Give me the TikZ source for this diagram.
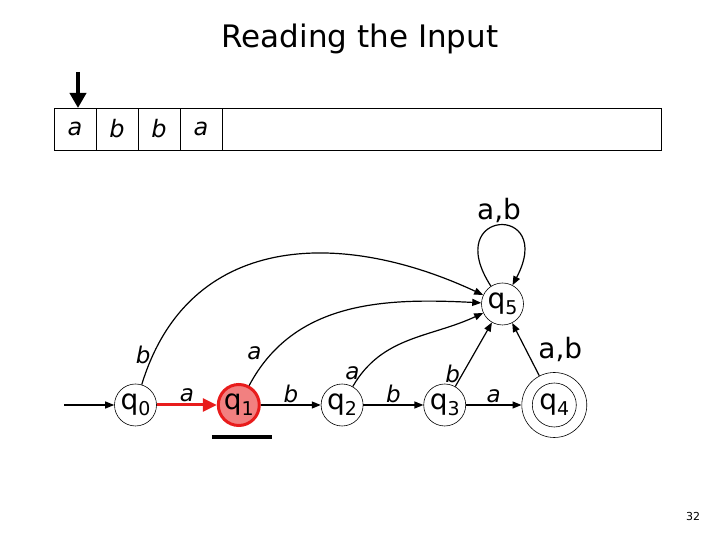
\documentclass[tikz,border=0pt]{standalone}
\usepackage{fontspec}
\setmainfont{DejaVu Sans}
\usetikzlibrary{arrows.meta,positioning}
\definecolor{hlred}{RGB}{232,28,28}
\definecolor{hlfill}{RGB}{242,128,128}
\newcommand{\qst}[1]{q\raisebox{-0.22em}{\fontsize{19}{19}\selectfont #1}}
\begin{document}
\begin{tikzpicture}[x=1pt,y=1pt,>={Triangle[length=9pt,width=7pt]},node distance=60pt,
  state/.style={circle,draw,line width=0.6pt,minimum size=42pt,inner sep=0pt,font=\fontsize{28}{28}\selectfont},
  cell/.style={draw,line width=0.6pt,minimum width=42pt,minimum height=42pt,inner sep=0pt,outer sep=0pt,font=\fontsize{24}{24}\selectfont\itshape},
  edge/.style={->,line width=1.2pt},
  lbl/.style={font=\fontsize{23}{23}\selectfont\itshape,inner sep=2pt},
  lblb/.style={font=\fontsize{28}{28}\selectfont,inner sep=2pt}]
\useasboundingbox (0,0) rectangle (720,540);
\node[font=\fontsize{31}{31}\selectfont] (title) at (360,501) {Reading the Input};
% tape
\node[cell] (c1) at (75,411) {a};
\node[cell,right=0pt of c1] (c2) {b};
\node[cell,right=0pt of c2] (c3) {b};
\node[cell,right=0pt of c3] (c4) {a};
\node[cell,minimum width=439pt,right=0pt of c4] (rest) {};
\coordinate[above=36pt of c1.north,xshift=3pt] (head);
\draw[-{Triangle[length=15pt,width=16pt]},line width=4pt] (head) -- (head |- c1.north);
% states
\node[state] (q0) at (135.5,135) {\qst{0}};
\node[state,right=of q0,minimum size=41pt,draw=hlred,line width=3pt,fill=hlfill] (q1) {\qst{1}};
\node[state,right=of q1] (q2) {\qst{2}};
\node[state,right=of q2] (q3) {\qst{3}};
\node[state,right=66pt of q3,minimum size=44pt] (q4) {\qst{4}};
\node[circle,draw,line width=0.6pt,minimum size=65pt] (q4a) at (q4) {};
\node[state] (q5) at (502.5,236) {\qst{5}};
\coordinate[left=50pt of q0] (start);
\draw[edge] (start) -- (q0);
\draw[-{Triangle[length=14pt,width=13pt]},line width=3pt,hlred] (q0) -- node[lbl,above,text=black]{a} (q1);
\draw[edge] (q1) -- node[lbl,above]{b} (q2);
\draw[edge] (q2) -- node[lbl,above]{b} (q3);
\draw[edge] (q3) -- node[lbl,above]{a} (q4a);
\draw[edge] (q0) to[out=73,in=155,looseness=1.15] node[lbl,pos=0.07,left]{b} (q5);
\draw[edge] (q1) to[out=62,in=177] node[lbl,pos=0.1,above left]{a} (q5);
\draw[edge] (q2) to[out=60,in=205] node[lbl,pos=0.1,left]{a} (q5);
\draw[edge] (q3) -- node[lbl,pos=0.2,left]{b} (q5);
\draw[edge] (q4a) -- node[lblb,midway,right=10pt]{a,b} (q5);
\draw[edge] (q5) to[out=123,in=62,looseness=11] node[lblb,above]{a,b} (q5);
\draw[line width=3.5pt] ([xshift=-27pt,yshift=-32pt]q1.center) -- ++(60pt,0);
\node[font=\fontsize{11}{11}\selectfont] (pg) at (693,24) {32};
\end{tikzpicture}
\end{document}
